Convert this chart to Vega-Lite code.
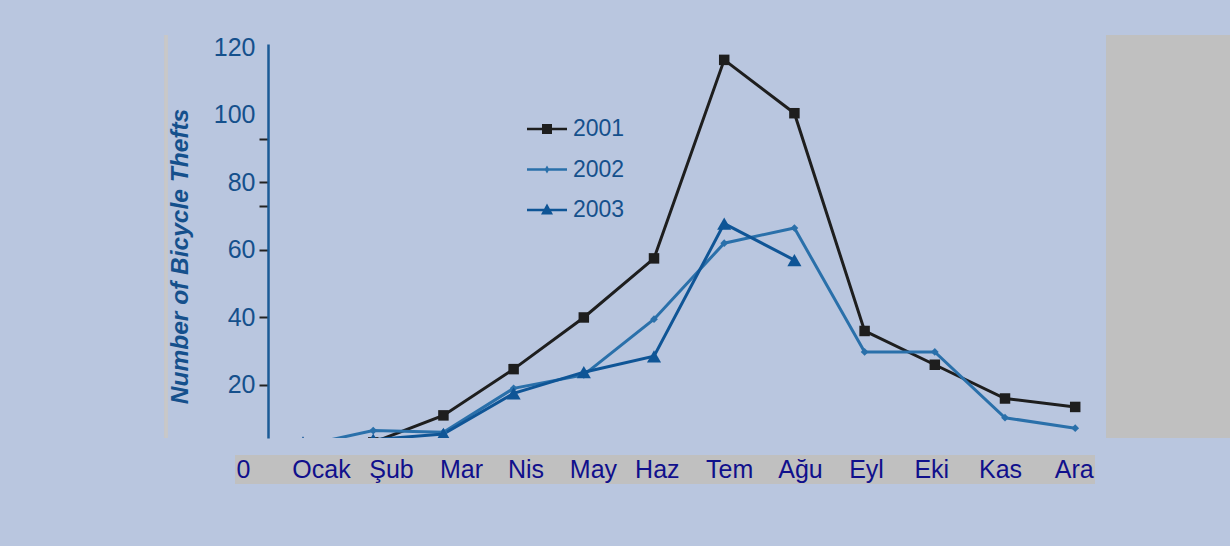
{
  "$schema": "https://vega.github.io/schema/vega-lite/v6.json",
  "autosize": {"type": "none"},
  "padding": {"left": 235, "top": 44, "right": 135, "bottom": 108},
  "width": 860,
  "height": 394,
  "background": "#B9C6DF",
  "view": {"stroke": null},
  "config": {"font": "Liberation Sans", "axis": {"grid": false}},
  "data": {
    "values": [
      {"year": "2001", "month": 1, "thefts": 2},
      {"year": "2001", "month": 2, "thefts": 3},
      {"year": "2001", "month": 3, "thefts": 11},
      {"year": "2001", "month": 4, "thefts": 24.7},
      {"year": "2001", "month": 5, "thefts": 40},
      {"year": "2001", "month": 6, "thefts": 57.5},
      {"year": "2001", "month": 7, "thefts": 116.3},
      {"year": "2001", "month": 8, "thefts": 100.5},
      {"year": "2001", "month": 9, "thefts": 36},
      {"year": "2001", "month": 10, "thefts": 26},
      {"year": "2001", "month": 11, "thefts": 16},
      {"year": "2001", "month": 12, "thefts": 13.5},
      {"year": "2002", "month": 1, "thefts": 2},
      {"year": "2002", "month": 2, "thefts": 6.5},
      {"year": "2002", "month": 3, "thefts": 6},
      {"year": "2002", "month": 4, "thefts": 19},
      {"year": "2002", "month": 5, "thefts": 23},
      {"year": "2002", "month": 6, "thefts": 39.5},
      {"year": "2002", "month": 7, "thefts": 62},
      {"year": "2002", "month": 8, "thefts": 66.5},
      {"year": "2002", "month": 9, "thefts": 29.8},
      {"year": "2002", "month": 10, "thefts": 29.8},
      {"year": "2002", "month": 11, "thefts": 10.3},
      {"year": "2002", "month": 12, "thefts": 7.2},
      {"year": "2003", "month": 1, "thefts": 3},
      {"year": "2003", "month": 2, "thefts": 3.8},
      {"year": "2003", "month": 3, "thefts": 5.5},
      {"year": "2003", "month": 4, "thefts": 17.5},
      {"year": "2003", "month": 5, "thefts": 23.8},
      {"year": "2003", "month": 6, "thefts": 28.5},
      {"year": "2003", "month": 7, "thefts": 67.8},
      {"year": "2003", "month": 8, "thefts": 57}
    ]
  },
  "encoding": {
    "x": {
      "field": "month", "type": "quantitative",
      "scale": {"domain": [0.031, 12.282], "nice": false, "zero": false},
      "axis": {
        "orient": "bottom", "title": null, "zindex": 1,
        "values": [0.145, 1.256, 2.253, 3.25, 4.17, 5.13, 6.04, 7.07, 8.08, 9.02, 9.95, 10.93, 11.98],
        "labelExpr": "['0','Ocak','Şub','Mar','Nis','May','Haz','Tem','Ağu','Eyl','Eki','Kas','Ara'][round(datum.value)]",
        "ticks": false, "tickSize": 0, "domain": false,
        "offset": 31, "labelPadding": 0, "labelBaseline": "middle", "labelAlign": "center",
        "labelFont": "Liberation Sans", "labelFontSize": 25, "labelColor": "#10108C",
        "labelFlush": false, "labelOverlap": false, "labelBound": false
      }
    },
    "y": {
      "field": "thefts", "type": "quantitative",
      "scale": {"domain": [4.3, 121], "nice": false, "zero": false},
      "axis": {
        "orient": "left", "zindex": 1,
        "title": "Number of Bicycle Thefts",
        "titleFont": "Liberation Sans", "titleFontSize": 24.5, "titleFontWeight": "bold", "titleFontStyle": "italic",
        "titleColor": "#15508C", "titleAngle": 270, "titleAlign": "center", "titleBaseline": "middle",
        "titleX": -88, "titleY": 212,
        "values": [20, 40, 60, 73, 80, 93, 100, 120],
        "labelExpr": "datum.value % 20 === 0 ? datum.label : ''",
        "offset": -33,
        "domainColor": "#1B5A96", "domainWidth": 2.5,
        "tickColor": "#222222", "tickWidth": 2, "tickSize": 9,
        "tickOpacity": {"condition": {"test": "datum.value >= 100", "value": 0}, "value": 1},
        "labelPadding": 4, "labelFont": "Liberation Sans", "labelFontSize": 25, "labelColor": "#15508C",
        "labelOverlap": false, "labelBound": false, "labelFlush": false
      }
    }
  },
  "layer": [
    {
      "mark": {"type": "rect", "clip": false, "color": "#C0C0C0"},
      "encoding": {
        "x": {"datum": 12.44, "type": "quantitative"},
        "x2": {"datum": 14.4},
        "y": {"datum": 123.67, "type": "quantitative"},
        "y2": {"datum": 4.3}
      }
    },
    {
      "mark": {"type": "rule", "clip": false, "color": "#C8C8C8", "strokeWidth": 2.5},
      "encoding": {
        "x": {"datum": -0.952, "type": "quantitative"},
        "y": {"datum": 123.67, "type": "quantitative"},
        "y2": {"datum": 4.3}
      }
    },
    {
      "mark": {"type": "rect", "clip": false, "color": "#C0C0C0"},
      "encoding": {
        "x": {"datum": 0.031, "type": "quantitative"},
        "x2": {"datum": 12.282},
        "y": {"datum": -0.74, "type": "quantitative"},
        "y2": {"datum": -9.33}
      }
    },
    {
      "mark": {"type": "line", "clip": true, "strokeWidth": 3},
      "encoding": {
        "color": {
          "field": "year", "type": "nominal",
          "scale": {"domain": ["2001", "2002", "2003"], "range": ["#1E1E1E", "#2A70AA", "#0F5596"]},
          "legend": {
            "orient": "none", "legendX": 292, "legendY": 65, "title": null, "padding": 0,
            "symbolSize": 1600, "symbolStrokeWidth": 0, "labelOffset": 6, "rowPadding": 8.5,
            "labelFont": "Liberation Sans", "labelFontSize": 23, "labelColor": "#15508C",
            "encode": {
              "symbols": {
                "update": {
                  "shape": {"signal": "datum.value == '2001' ? 'M-1,-0.065H1V0.065H-1ZM-0.25,-0.25H0.25V0.25H-0.25Z' : datum.value == '2002' ? 'M-1,-0.06H1V0.06H-1ZM0,-0.2L0.12,0L0,0.2L-0.12,0Z' : 'M-1,-0.065H1V0.065H-1ZM0,-0.32L0.3,0.22H-0.3Z'"},
                  "size": {"value": 1600},
                  "fill": {"signal": "datum.value == '2001' ? '#1E1E1E' : datum.value == '2002' ? '#2A70AA' : '#0F5596'"},
                  "fillOpacity": {"value": 1},
                  "strokeWidth": {"value": 0},
                  "opacity": {"value": 1}
                }
              }
            }
          }
        }
      }
    },
    {
      "transform": [{"filter": "datum.year == '2001'"}],
      "mark": {"type": "point", "clip": true, "filled": true, "opacity": 1, "shape": "square", "size": 110, "color": "#1E1E1E"}
    },
    {
      "transform": [{"filter": "datum.year == '2002'"}],
      "mark": {"type": "point", "clip": true, "filled": true, "opacity": 1, "shape": "diamond", "size": 60, "color": "#2A70AA"}
    },
    {
      "transform": [{"filter": "datum.year == '2003'"}],
      "mark": {"type": "point", "clip": true, "filled": true, "opacity": 1, "shape": "triangle-up", "size": 200, "color": "#0F5596"}
    }
  ]
}
